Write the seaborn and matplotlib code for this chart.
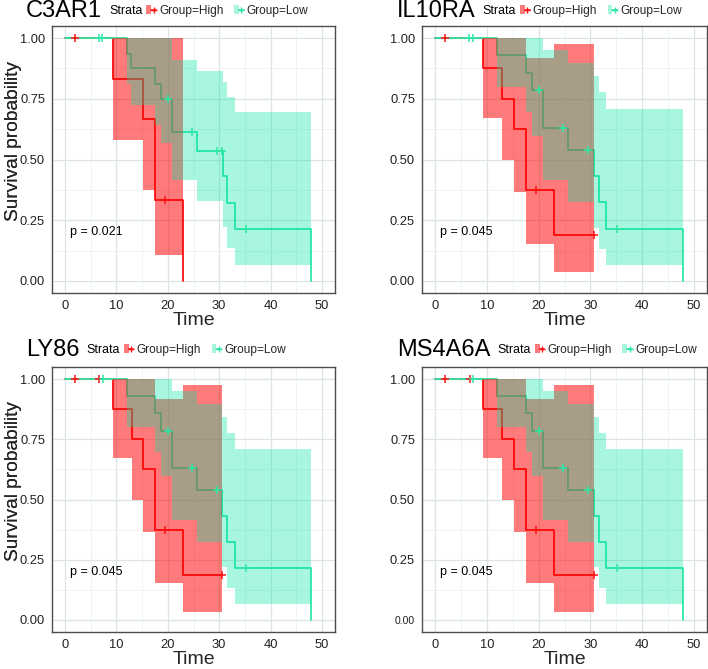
import numpy as np
import matplotlib
matplotlib.use('Agg')
import matplotlib.pyplot as plt
from matplotlib.patches import Patch
from matplotlib.lines import Line2D
from matplotlib.legend_handler import HandlerTuple
import seaborn as sns

genes = ['C3AR1', 'IL10RA', 'LY86', 'MS4A6A']
p_labels = ['p = 0.021', 'p = 0.045', 'p = 0.045', 'p = 0.045']
x_ticks = [0, 10, 20, 30, 40, 50]
y_ticks = [0.0, 0.25, 0.5, 0.75, 1.0]
y_ticklabels = ['0.00', '0.25', '0.50', '0.75', '1.00']
strata = ['Group=High', 'Group=Low']

# C3AR1 curves (time, survival, CI)
c3_high_time = [0, 9.3, 15.2, 17.6, 23.0]
c3_high_surv = [1.0, 0.833, 0.667, 0.333, 0.0]
c3_high_upper = [1.0, 1.0, 1.0, 1.0, 1.0]
c3_high_lower = [1.0, 0.58, 0.375, 0.107, 0.107]
c3_high_cens_t = [1.9, 19.5]
c3_high_cens_s = [1.0, 0.333]

c3_low_time = [0, 12.0, 12.9, 17.6, 18.7, 20.8, 25.6, 30.8, 31.6, 33.0, 47.8]
c3_low_surv = [1.0, 0.933, 0.875, 0.8125, 0.75, 0.614, 0.537, 0.43, 0.321, 0.214, 0.0]
c3_low_upper = [1.0, 1.0, 1.0, 1.0, 1.0, 0.91, 0.865, 0.819, 0.759, 0.694, 0.694]
c3_low_lower = [1.0, 0.81, 0.724, 0.641, 0.566, 0.414, 0.331, 0.223, 0.135, 0.065, 0.065]
c3_low_cens_t = [6.6, 7.3, 20.1, 24.8, 29.6, 30.5, 35.2]
c3_low_cens_s = [1.0, 1.0, 0.75, 0.614, 0.537, 0.537, 0.214]

# IL10RA / LY86 / MS4A6A share the same curves
sh_high_time = [0, 9.3, 13.0, 15.2, 17.6, 23.0, 30.6]
sh_high_surv = [1.0, 0.875, 0.75, 0.625, 0.375, 0.1875, 0.1875]
sh_high_upper = [1.0, 1.0, 1.0, 1.0, 0.917, 0.975, 0.975]
sh_high_lower = [1.0, 0.673, 0.50, 0.366, 0.152, 0.035, 0.035]

sh_low_time = [0, 12.0, 17.6, 18.7, 20.8, 25.6, 30.6, 31.6, 33.0, 47.8]
sh_low_surv = [1.0, 0.929, 0.857, 0.786, 0.629, 0.539, 0.431, 0.323, 0.215, 0.0]
sh_low_upper = [1.0, 1.0, 1.0, 1.0, 0.95, 0.897, 0.844, 0.777, 0.71, 0.71]
sh_low_lower = [1.0, 0.80, 0.697, 0.596, 0.414, 0.324, 0.218, 0.131, 0.065, 0.065]

il_high_cens_t = [1.9, 19.5, 30.6]
il_high_cens_s = [1.0, 0.375, 0.1875]
il_low_cens_t = [6.6, 7.3, 20.1, 24.8, 29.6, 35.2]
il_low_cens_s = [1.0, 1.0, 0.786, 0.629, 0.539, 0.215]

ly_high_cens_t = [1.9, 6.7, 19.5, 30.6]
ly_high_cens_s = [1.0, 1.0, 0.375, 0.1875]
ly_low_cens_t = [7.4, 20.1, 24.8, 29.6, 35.2]
ly_low_cens_s = [1.0, 0.786, 0.629, 0.539, 0.215]

RED_LINE, RED_FILL = '#FF1010', '#FF0000'
GRN_LINE, GRN_FILL = '#2EE8A6', '#00E6A5'

sns.set_theme(style='white')
plt.rcParams['font.family'] = ['Liberation Sans', 'DejaVu Sans']

W, H = 708, 669
fig = plt.figure(figsize=(W / 100, H / 100), dpi=100)

# axes boxes in pixels: left, top, right, bottom
boxes = [(52, 26, 335, 293), (422, 26, 707, 293), (52, 367, 335, 632), (422, 367, 707, 632)]
title_x = [26, 397, 26, 397]
title_y = [11, 11, 350, 350]

panel_data = [
    (c3_high_time, c3_high_surv, c3_high_lower, c3_high_upper, c3_high_cens_t, c3_high_cens_s,
     c3_low_time, c3_low_surv, c3_low_lower, c3_low_upper, c3_low_cens_t, c3_low_cens_s),
    (sh_high_time, sh_high_surv, sh_high_lower, sh_high_upper, il_high_cens_t, il_high_cens_s,
     sh_low_time, sh_low_surv, sh_low_lower, sh_low_upper, il_low_cens_t, il_low_cens_s),
    (sh_high_time, sh_high_surv, sh_high_lower, sh_high_upper, ly_high_cens_t, ly_high_cens_s,
     sh_low_time, sh_low_surv, sh_low_lower, sh_low_upper, ly_low_cens_t, ly_low_cens_s),
    (sh_high_time, sh_high_surv, sh_high_lower, sh_high_upper, ly_high_cens_t, ly_high_cens_s,
     sh_low_time, sh_low_surv, sh_low_lower, sh_low_upper, ly_low_cens_t, ly_low_cens_s),
]

fig.canvas.draw()
renderer = fig.canvas.get_renderer()

for i, gene in enumerate(genes):
    l, t, r, b = boxes[i]
    ax = fig.add_axes([l / W, 1 - b / H, (r - l) / W, (b - t) / H])
    (ht, hs, hl, hu, hct, hcs, lt, ls, ll, lu, lct, lcs) = panel_data[i]

    # curves underneath ribbons, like the original
    sns.lineplot(x=ht, y=hs, ax=ax, color=RED_LINE, drawstyle='steps-post',
                 estimator=None, sort=False, lw=1.3, zorder=2)
    sns.lineplot(x=lt, y=ls, ax=ax, color=GRN_LINE, drawstyle='steps-post',
                 estimator=None, sort=False, lw=1.3, zorder=2)
    ax.fill_between(ht, hl, hu, step='post', color=RED_FILL, alpha=0.52, lw=0, zorder=3)
    ax.fill_between(lt, ll, lu, step='post', color=GRN_FILL, alpha=0.34, lw=0, zorder=4)
    sns.scatterplot(x=hct, y=hcs, ax=ax, marker='+', color=RED_LINE, s=30, linewidth=1.1, zorder=5)
    sns.scatterplot(x=lct, y=lcs, ax=ax, marker='+', color=GRN_LINE, s=30, linewidth=1.1, zorder=5)

    ax.text(1.0, 0.2, p_labels[i], fontsize=9, va='center', ha='left', color='black')

    ax.set_xlim(-2.5, 52.5)
    ax.set_ylim(-0.05, 1.05)
    ax.set_xticks(x_ticks)
    ax.set_xticks([5, 15, 25, 35, 45], minor=True)
    ax.set_yticks(y_ticks)
    ax.set_yticks([0.125, 0.375, 0.625, 0.875], minor=True)
    ax.set_yticklabels(y_ticklabels)
    ax.grid(which='major', color='#DCE5E5', lw=0.9)
    ax.grid(which='minor', color='#E9EFEF', lw=0.5)
    ax.set_axisbelow(True)
    ax.tick_params(which='major', length=3, width=0.7, color='#333333',
                   labelsize=9.3, labelcolor='#222222', pad=2)
    ax.tick_params(which='minor', length=0)
    if gene == 'MS4A6A':
        ax.get_yticklabels()[0].set_fontsize(7.5)
    for sp in ax.spines.values():
        sp.set_visible(True)
        sp.set_color('#4D4D4D')
        sp.set_linewidth(1.0)

    ax.set_xlabel('Time', fontsize=14)
    ax.set_ylabel('Survival probability', fontsize=13.8)
    ax.xaxis.set_label_coords(0.5, -0.072)
    ax.yaxis.set_label_coords((21.6 - l) / (r - l), 0.57)

    # title + strata legend on one line, placed in axes coordinates
    aw, ah = r - l, b - t
    ty = (b - title_y[i]) / ah
    tt = ax.text((title_x[i] - l) / aw, ty, gene, fontsize=17, va='center', ha='left',
                 color='black', transform=ax.transAxes, clip_on=False)
    bb = tt.get_window_extent(renderer)
    st = fig.text((bb.x1 + 7) / W, 1 - title_y[i] / H, 'Strata', fontsize=8.9,
                  va='center', ha='left', color='black')
    sb = st.get_window_extent(renderer)

    handles = [
        (Patch(facecolor=RED_FILL, alpha=0.52, lw=0),
         Line2D([], [], color=RED_LINE, marker='+', lw=1.2, markersize=5)),
        (Patch(facecolor=GRN_FILL, alpha=0.34, lw=0),
         Line2D([], [], color=GRN_LINE, marker='+', lw=1.2, markersize=5)),
    ]
    fig.legend(handles, strata, handler_map={tuple: HandlerTuple(ndivide=None)},
               loc='center left', bbox_to_anchor=((sb.x1 + 4) / W, 1 - title_y[i] / H), ncol=2,
               frameon=False, fontsize=8.6, handlelength=0.8, handleheight=0.8,
               handletextpad=0.25, columnspacing=0.9, borderpad=0, borderaxespad=0)

fig.savefig('out.png', dpi=100)
